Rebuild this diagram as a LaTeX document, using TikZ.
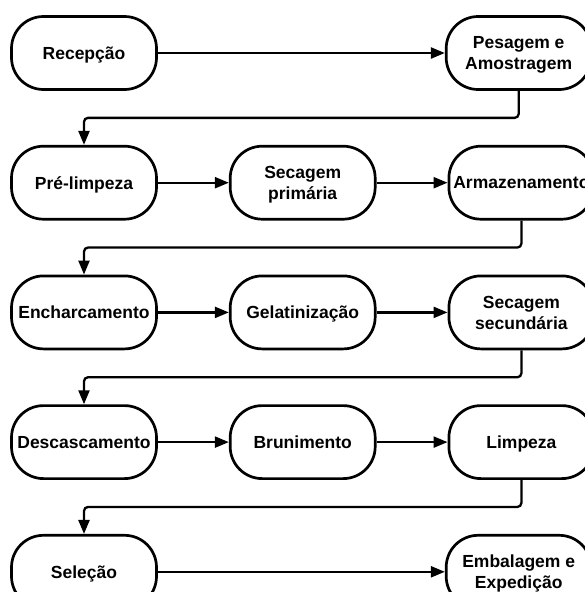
\documentclass[tikz,border=0pt]{standalone}
\usepackage{fontspec}
\setmainfont{Liberation Sans}
\usetikzlibrary{arrows.meta,positioning}

\begin{document}
\begin{tikzpicture}[>={Triangle[length=14pt,width=11pt]}, line width=2.3pt,
    node distance=54pt and 71pt,
    proc/.style={draw, line width=2.7pt, rounded corners=32pt,
        minimum width=145pt, minimum height=73pt, align=center,
        inner sep=0pt, text depth=0pt,
        font=\bfseries\fontsize{17.5}{21}\selectfont},
    turn/.style={->, rounded corners=4pt}]
    \useasboundingbox (-84pt,53pt) rectangle (500pt,-539pt);

    % Nodes (rows top to bottom)
    \node [proc]    (rec)                          {Recepção};
    \node [proc]    (pes)  [right=287pt of rec]    {Pesagem e\\Amostragem};
    \node [proc]    (pre)  [below=of rec]          {Pré-limpeza};
    \node [proc]    (sec1) [right=of pre]          {Secagem\\primária};
    \node [proc]    (arm)  [right=of sec1]         {Armazenamento};
    \node [proc]    (enc)  [below=of pre]          {Encharcamento};
    \node [proc]    (gel)  [right=of enc]          {Gelatinização};
    \node [proc]    (sec2) [right=of gel]          {Secagem\\secundária};
    \node [proc]    (des)  [below=of enc]          {Descascamento};
    \node [proc]    (bru)  [right=of des]          {Brunimento};
    \node [proc]    (lim)  [right=of bru]          {Limpeza};
    \node [proc]    (sel)  [below=of des]          {Seleção};
    \node [proc]    (emb)  [right=287pt of sel]    {Embalagem e\\Expedição};

    % Paths
    \path [->]  (rec)  edge  (pes);
    \path [->]  (pre)  edge  (sec1);
    \path [->]  (sec1) edge  (arm);
    \path [->]  (enc)  edge  (gel);
    \path [->]  (gel)  edge  (sec2);
    \path [->]  (des)  edge  (bru);
    \path [->]  (bru)  edge  (lim);
    \path [->]  (sel)  edge  (emb);

    % Row changes
    \draw [turn] (pes.south)  -- ++(0,-27pt) -| (pre.north);
    \draw [turn] (arm.south)  -- ++(0,-27pt) -| (enc.north);
    \draw [turn] (sec2.south) -- ++(0,-27pt) -| (des.north);
    \draw [turn] (lim.south)  -- ++(0,-27pt) -| (sel.north);
\end{tikzpicture}
\end{document}
